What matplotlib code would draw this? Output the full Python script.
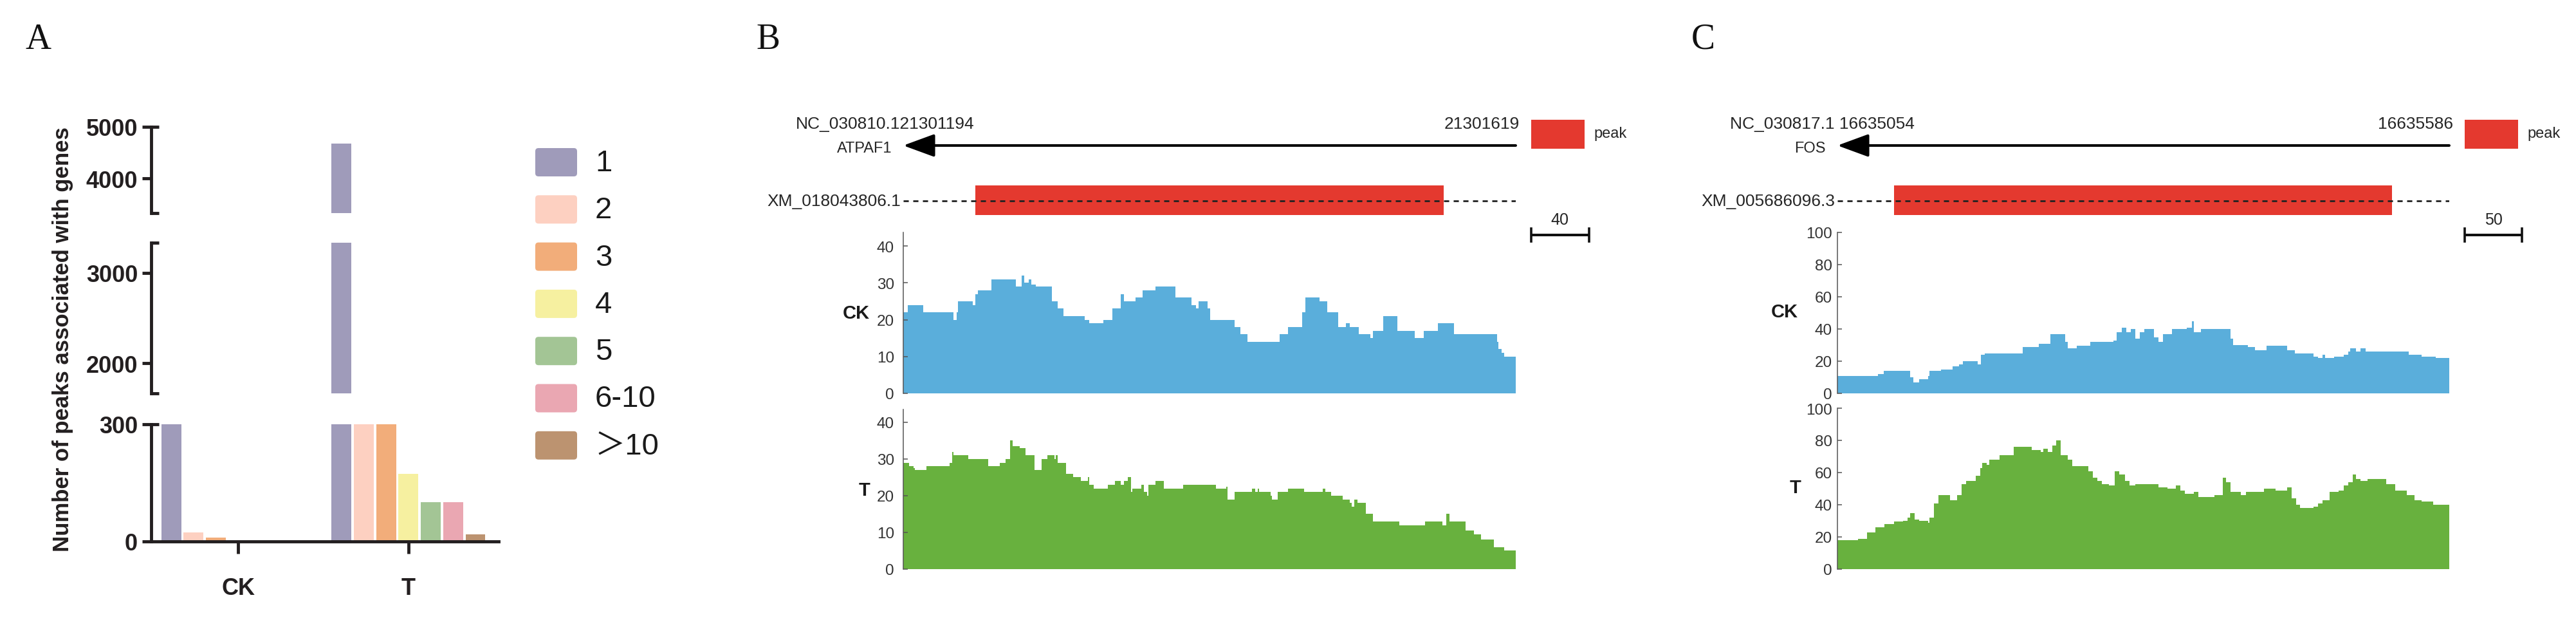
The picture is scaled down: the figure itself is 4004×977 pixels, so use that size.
import matplotlib
matplotlib.use("Agg")
import matplotlib.pyplot as plt
from matplotlib import font_manager
from matplotlib.patches import Rectangle, FancyBboxPatch

names = {f.name for f in font_manager.fontManager.ttflist}
SANS = 'Liberation Sans' if 'Liberation Sans' in names else 'DejaVu Sans'
SERIF = 'Liberation Serif' if 'Liberation Serif' in names else 'DejaVu Serif'
HAS_NARROW = 'Liberation Sans Narrow' in names
plt.rcParams['font.family'] = [SANS, 'Noto Sans CJK SC', 'DejaVu Sans']

# ---------------- data: panel A ----------------
groups = ['CK', 'T']
categories = ['1', '2', '3', '4', '5', '6-10', '\uff1e10']
cat_colors = ['#9f9bba', '#fdd0c1', '#f2ad7a', '#f6f0a0', '#a3c595', '#eaa7b2', '#bc9370']
ck_counts = [620, 23, 10, 0, 0, 0, 0]
t_counts = [4680, 560, 540, 173, 100, 100, 18]
seg_limits = [(0, 300), (1667, 3333), (3333, 5000)]
seg_ticks = [[0, 300], [2000, 3000], [4000, 5000]]

# ---------------- data: panel B ----------------
B_chrom = 'NC_030810.1'
B_gene = 'ATPAF1'
B_tx = 'XM_018043806.1'
B_start, B_end = 21301194, 21301619
B_peak = (21301244, 21301569)
B_scale = 40
B_ck_pos = [0, 3, 14, 35, 37, 38, 48, 50, 52, 61, 78, 82, 84, 87, 89, 92, 103, 107, 111, 126,
            129, 139, 145, 151, 153, 161, 166, 175, 189, 200, 203, 205, 211, 213, 230, 234, 239,
            261, 267, 277, 279, 289, 294, 302, 307, 310, 316, 324, 326, 333, 343, 355, 361, 371,
            382, 412, 413, 415, 417]
B_ck_val = [22, 24, 22, 20, 22, 25, 24, 27, 28, 31, 29, 32, 30, 31, 29.5, 29, 25, 23, 21, 20,
            19, 20, 23, 27, 25, 26, 28, 29, 26, 24, 23, 25, 23, 20, 18, 16, 14,
            16, 18, 22, 26, 25, 22, 18, 19, 18, 16, 15, 17, 21, 17, 15, 17, 19,
            16, 14, 12, 11, 10]
B_t_pos = [0, 4, 7, 8, 16, 32, 34, 35, 45, 59, 67, 71, 74, 76, 81, 85, 91, 96, 100, 105, 106,
           107, 113, 118, 123, 128, 129, 132, 142, 147, 151, 153, 156, 158, 159, 165, 167, 169,
           170, 175, 181, 194, 217, 224, 225, 230, 242, 244, 246, 247, 255, 256, 260, 267, 278,
           291, 293, 297, 305, 310, 311, 313, 315, 321, 326, 344, 362, 374, 377, 379, 390, 396,
           401, 410, 417]
B_t_val = [29, 28, 27.5, 27, 28, 29, 32, 31, 30, 28, 29, 30, 35, 33.5, 33, 31, 27, 30, 31, 30, 31,
           29, 26, 25, 24, 25, 23, 22, 23, 24, 23, 24, 25, 21, 22, 23, 21, 20,
           23, 24, 22, 23, 22, 22.5, 19, 21, 22, 21, 22, 21, 20, 19, 21, 22, 21,
           22, 21, 20, 19, 18, 17, 19, 18, 15, 13, 12, 13, 12, 15, 13, 10.5, 9.5,
           8, 6, 5]

# ---------------- data: panel C ----------------
C_chrom = 'NC_030817.1 '
C_gene = 'FOS'
C_tx = 'XM_005686096.3'
C_start, C_end = 16635054, 16635586
C_peak = (16635103, 16635536)
C_scale = 50
C_ck_pos = [0, 35, 40, 63, 66, 71, 79, 80, 90, 100, 106, 109, 122, 125, 128, 161, 175, 185, 198,
            200, 208, 220, 240, 243, 247, 251, 255, 259, 263, 267, 275, 279, 283, 291, 304, 308,
            310, 316, 342, 344, 357, 363, 373, 391, 398, 414, 418, 422, 424, 432, 440, 444, 446,
            451, 455, 459, 497, 508, 520]
C_ck_val = [11, 12, 14, 10, 7, 9, 11, 14, 15, 17, 18, 20, 18, 24, 25, 29, 31, 37, 32,
            28, 29.5, 32, 33, 38, 41, 38, 40, 34, 38, 40, 35, 32, 37, 40, 41, 45,
            38, 40, 34, 30, 29, 27, 29.5, 27, 25, 23, 22, 24, 22, 23, 24, 26, 28,
            26, 28, 26, 24, 23, 22]
C_t_pos = [0, 18, 26, 33, 41, 49, 57, 61, 63, 67, 71, 79, 80, 84, 88, 98, 104, 108, 112, 120, 124,
           126, 130, 132, 141, 153, 169, 177, 179, 183, 187, 190, 194, 200, 204, 218, 222, 226,
           230, 236, 241, 245, 250, 254, 259, 279, 287, 294, 298, 302, 310, 314, 328, 335, 338,
           342, 351, 355, 371, 381, 391, 395, 399, 402, 414, 418, 422, 428, 436, 440, 444, 448,
           451, 455, 461, 477, 485, 495, 502, 508, 518]
C_t_val = [18, 19, 23, 26, 28, 29.5, 30, 32, 35, 31, 30, 29, 32, 41, 46, 43, 46, 53, 55, 58, 63,
           66, 65, 68, 71, 76, 74, 73, 75, 73, 77, 80, 71, 68, 64, 61, 57, 55,
           53, 52, 61, 59, 55, 52, 53, 51, 50, 52, 49, 47, 48, 45, 46, 57, 54,
           48, 46, 48, 50, 49, 51, 44, 40, 38, 39, 41, 43, 48, 49, 52, 54, 59,
           56, 55, 56, 53, 49, 46, 43, 42, 40]

# ---------------- layout helpers ----------------
W, H = 4005, 978
fig = plt.figure(figsize=(W / 100, H / 100), dpi=100)


def px_axes(x0, y0, x1, y1):
    return fig.add_axes([x0 / W, 1 - y1 / H, (x1 - x0) / W, (y1 - y0) / H])


AX_COL = '#231f20'
TXT = '#262626'
RED = '#e4392f'
BLUE = '#5aaedb'
GREEN = '#68b13e'

# ---------------- panel A ----------------
seg_px = [(660, 842), (378, 612), (198, 332)]
group_x = [0, 1]
pitch, bw = 0.131, 0.117
xlim = (-0.511, 1.529)
LW = 3.5
for k, ((ylo, yhi), ticks, (p0, p1)) in enumerate(zip(seg_limits, seg_ticks, seg_px)):
    ax = px_axes(235, p0, 775, p1)
    for i in range(len(categories)):
        vals = [ck_counts[i], t_counts[i]]
        ax.bar([g + (i - 3) * pitch for g in group_x], vals, width=bw,
               color=cat_colors[i], linewidth=0)
    ax.set_xlim(*xlim)
    ax.set_ylim(ylo, yhi)
    ax.set_yticks(ticks)
    ax.set_yticklabels([str(t) for t in ticks])
    for s in ['top', 'right']:
        ax.spines[s].set_visible(False)
    ax.spines['left'].set_linewidth(LW)
    ax.spines['left'].set_color(AX_COL)
    ax.tick_params(axis='y', direction='out', length=10, width=LW, color=AX_COL,
                   labelsize=26, pad=5, labelcolor=AX_COL)
    for lab in ax.get_yticklabels():
        lab.set_fontweight('bold')
    if k == 0:
        ax.spines['bottom'].set_linewidth(LW)
        ax.spines['bottom'].set_color(AX_COL)
        ax.set_xticks(group_x)
        ax.set_xticklabels(groups, fontsize=26, fontweight='bold', color=AX_COL)
        ax.tick_params(axis='x', direction='out', length=13.7, width=LW, color=AX_COL, pad=26)
    else:
        ax.spines['bottom'].set_visible(False)
        ax.set_xticks([])
    cap = 12 / 540
    ends = [1] if k == 0 else [0, 1]
    for yy in ends:
        ax.plot([0, cap], [yy, yy], transform=ax.transAxes, clip_on=False,
                color=AX_COL, lw=LW, solid_capstyle='butt')
    ax.patch.set_alpha(0)

fig.text(98 / W, 1 - 527 / H, 'Number of peaks associated with genes', rotation=90,
         ha='center', va='center', fontsize=25, fontweight='bold', color=AX_COL)

# legend (manual)
lax = px_axes(820, 200, 1100, 730)
lax.set_xlim(820, 1100)
lax.set_ylim(730, 200)
lax.axis('off')
if HAS_NARROW:
    leg_font = dict(family=['Liberation Sans Narrow', 'Noto Sans CJK SC'], fontsize=37)
else:
    leg_font = dict(family=[SANS, 'Noto Sans CJK SC'], fontsize=34)
for i, (lab, col) in enumerate(zip(categories, cat_colors)):
    ytop = 231 + i * 73.3
    lax.add_patch(FancyBboxPatch((832, ytop), 65, 44, boxstyle='round,pad=0,rounding_size=5',
                                 facecolor=col, edgecolor='none'))
    lax.text(925, ytop + 23, lab, ha='left', va='center', color='#1a1a1a', **leg_font)

# panel letters
for lt, xx in [('A', 60), ('B', 1194), ('C', 2647)]:
    fig.text(xx / W, 1 - 62 / H, lt, ha='center', va='center', fontsize=40,
             family=SERIF, color='#111111')


# ---------------- panels B and C ----------------
def step_xy(start, pos, val, length):
    xs = [start + p for p in pos] + [start + length]
    ys = list(val) + [val[-1]]
    return xs, ys


def track(x0, x1, y0, y1, start, end, pos, val, color, ylim, ticks, label, lab_dx, lab_y, pad):
    ax = px_axes(x0, y0, x1, y1)
    xs, ys = step_xy(start, pos, val, end - start)
    ax.fill_between(xs, ys, 0, step='post', color=color, linewidth=0)
    ax.set_xlim(start, end)
    ax.set_ylim(*ylim)
    ax.set_yticks(ticks)
    ax.set_xticks([])
    for s in ['top', 'right', 'bottom']:
        ax.spines[s].set_visible(False)
    ax.spines['left'].set_linewidth(1.1)
    ax.spines['left'].set_color('#555555')
    ax.tick_params(axis='y', direction='in', length=5, width=1.1, color='#555555',
                   labelsize=17.5, labelcolor='#333333', pad=pad)
    ax.patch.set_alpha(0)
    fig.text((x0 + lab_dx) / W, 1 - lab_y / H, label, ha='center', va='center',
             fontsize=21, fontweight='bold', color='#1a1a1a')
    return ax


def annotation(x0, x1, start, end, chrom, gene, tx, peak, scale):
    ax = px_axes(x0, 170, x1, 380)
    ax.set_xlim(start, end)
    ax.set_ylim(380, 170)
    ax.axis('off')
    bp_px = (end - start) / (x1 - x0)
    off = dict(textcoords='offset pixels', color=TXT, va='center', annotation_clip=False)
    ax.annotate(f'{chrom}{start}', xy=(start, 193), xytext=(-167, 0), ha='left', fontsize=19, **off)
    ax.annotate(f'{end}', xy=(end, 193), xytext=(6, 0), ha='right', fontsize=19, **off)
    ax.annotate(gene, xy=(start, 231), xytext=(-18, 0), ha='right', fontsize=17, **off)
    ax.annotate('', xy=(start, 227), xytext=(end, 227),
                arrowprops=dict(arrowstyle='-|>,head_length=3.0,head_width=1.1',
                                mutation_scale=10, lw=2.9, color='black',
                                shrinkA=0, shrinkB=0), annotation_clip=False)
    # peak legend box
    ax.add_patch(Rectangle((end + 24 * bp_px, 187), 83 * bp_px, 45, facecolor=RED,
                           edgecolor='none', clip_on=False))
    ax.annotate('peak', xy=(end, 208), xytext=(121, 0), ha='left', fontsize=17, **off)
    # transcript
    ax.annotate(tx, xy=(start, 313), xytext=(-4, 0), ha='right', fontsize=19, **off)
    ax.plot([start, end], [313, 313], color='#222222', lw=2.0, linestyle=(0, (2.9, 2.5)))
    ax.add_patch(Rectangle((peak[0], 289), peak[1] - peak[0], 46, facecolor=RED,
                           edgecolor='none'))
    # scale bar
    sx0 = end + 24 * bp_px
    ax.plot([sx0, sx0 + scale], [366, 366], color='#111111', lw=2.9, clip_on=False,
            solid_capstyle='butt')
    for sx in (sx0, sx0 + scale):
        ax.plot([sx, sx], [356, 376], color='#111111', lw=2.6, clip_on=False)
    ax.text(sx0 + scale / 2, 342, str(scale), ha='center', va='center', fontsize=18,
            color=TXT, clip_on=False)
    return ax


# panel B
annotation(1404, 2356, B_start, B_end, B_chrom, B_gene, B_tx, B_peak, B_scale)
track(1404, 2356, 362, 612, B_start, B_end, B_ck_pos, B_ck_val, BLUE, (0, 43.7),
      [0, 10, 20, 30, 40], 'CK', -73, 487, 10)
track(1404, 2356, 637, 885, B_start, B_end, B_t_pos, B_t_val, GREEN, (0, 43.5),
      [0, 10, 20, 30, 40], 'T', -60, 762, 10)

# panel C
annotation(2856, 3807, C_start, C_end, C_chrom, C_gene, C_tx, C_peak, C_scale)
track(2856, 3807, 362, 612, C_start, C_end, C_ck_pos, C_ck_val, BLUE, (0, 100),
      [0, 20, 40, 60, 80, 100], 'CK', -82, 485, 6)
track(2856, 3807, 635, 885, C_start, C_end, C_t_pos, C_t_val, GREEN, (0, 100),
      [0, 20, 40, 60, 80, 100], 'T', -65, 758, 6)

fig.savefig('out.png', dpi=100, facecolor='white')
